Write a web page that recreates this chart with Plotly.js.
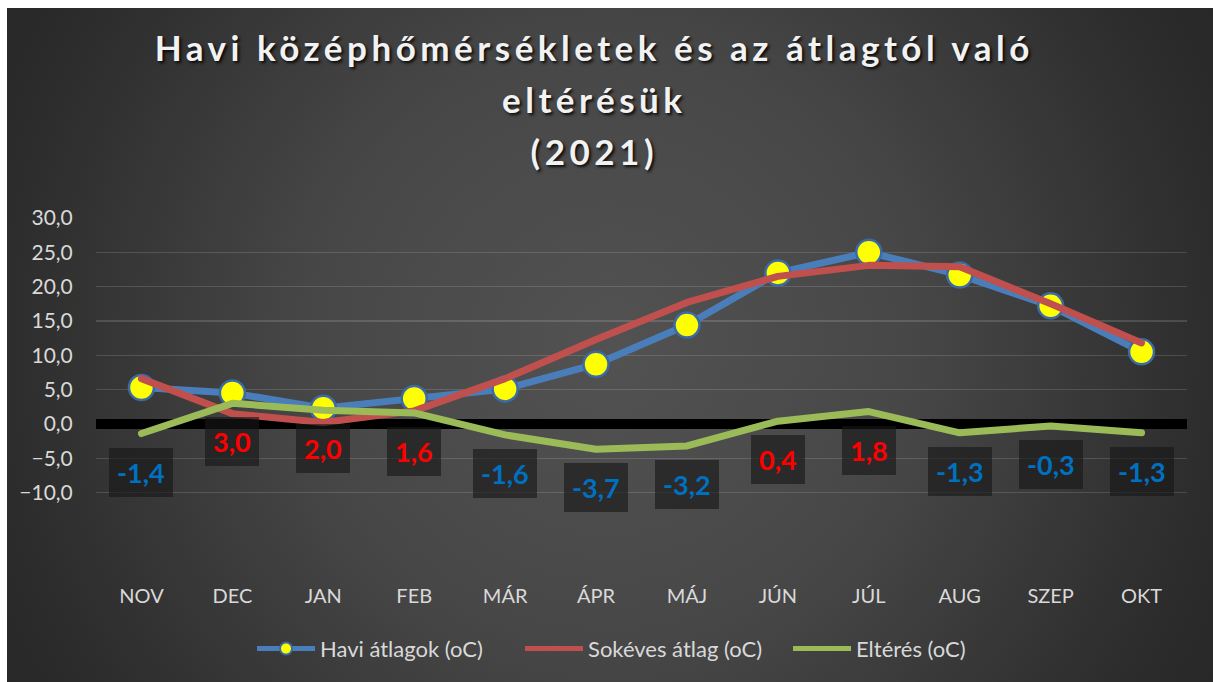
<!DOCTYPE html>
<html>
<head>
<meta charset="utf-8">
<script src="https://cdn.plot.ly/plotly-3.0.1.min.js"></script>
<style>
  html, body { margin: 0; padding: 0; background: #ffffff; }
  #chart {
    position: absolute; left: 7px; top: 8px; width: 1206px; height: 674px;
    background: radial-gradient(circle at 50% 50%, #525252 0px, #474747 300px, #2d2d2d 600px, #262626 720px);
  }
  .gtitle { letter-spacing: 4.5px; }
  .scatterlayer path.js-line { stroke-linecap: round; stroke-linejoin: round; }
</style>
</head>
<body>
<div id="chart"></div>
<script>
const months = ['NOV','DEC','JAN','FEB','MÁR','ÁPR','MÁJ','JÚN','JÚL','AUG','SZEP','OKT'];
const haviAtlagok = [5.3, 4.5, 2.3, 3.7, 5.1, 8.7, 14.4, 22.0, 25.0, 21.7, 17.2, 10.5];
const sokevesAtlag = [6.6, 1.5, 0.2, 1.9, 6.6, 12.3, 17.7, 21.5, 23.1, 22.9, 17.5, 11.8];
const elteres = [-1.4, 3.0, 2.0, 1.6, -1.6, -3.7, -3.2, 0.4, 1.8, -1.3, -0.3, -1.3];
const yTicks = [-10, -5, 0, 5, 10, 15, 20, 25, 30];
const seriesNames = ['Havi átlagok (oC)', 'Sokéves átlag (oC)', 'Eltérés (oC)'];

const labelFont = 'Lato, "Open Sans", sans-serif';

const traces = [
  {
    x: months, y: haviAtlagok, name: seriesNames[0], type: 'scatter', mode: 'lines+markers',
    line: {color: '#4a7ebb', width: 7},
    marker: {color: '#ffff00', size: 25, line: {color: '#3a6aa8', width: 2.5}},
    hoverinfo: 'skip'
  },
  {
    x: months, y: sokevesAtlag, name: seriesNames[1], type: 'scatter', mode: 'lines',
    line: {color: '#c0504d', width: 7},
    hoverinfo: 'skip'
  },
  {
    x: months, y: elteres, name: seriesNames[2], type: 'scatter', mode: 'lines',
    line: {color: '#9bbb59', width: 7},
    hoverinfo: 'skip'
  }
];

const annotations = months.map((m, i) => ({
  x: m, y: elteres[i], xref: 'x', yref: 'y',
  text: elteres[i].toFixed(1).replace('.', ','),
  showarrow: false, yshift: -38.5,
  bgcolor: 'rgba(22,22,22,0.62)', borderpad: 8, borderwidth: 0,
  font: {family: labelFont, size: 27, weight: 'bold', color: elteres[i] < 0 ? '#0070c0' : '#ff0000'}
}));

const layout = {
  width: 1206, height: 674,
  paper_bgcolor: 'rgba(0,0,0,0)', plot_bgcolor: 'rgba(0,0,0,0)',
  margin: {l: 88.5, r: 25.5, t: 210, b: 105},
  separators: ',.',
  showlegend: true,
  title: {
    text: '<span style="font-size:35px">Havi középhőmérsékletek és az átlagtól való</span><br><span style="font-size:35px">eltérésük</span><br><span style="font-size:35px">(2021)</span>',
    font: {family: labelFont, size: 40, weight: 'bold', color: '#f2f2f2', shadow: '2px 2px 3px rgba(0,0,0,0.85)'},
    x: 0.487, xref: 'container', xanchor: 'center',
    y: 0.921, yref: 'container', yanchor: 'top'
  },
  xaxis: {
    type: 'category', range: [-0.5, 11.5],
    showgrid: false, showline: false, zeroline: false,
    ticks: '', ticklabelstandoff: 5,
    tickfont: {family: labelFont, size: 20, color: '#d9d9d9'},
    fixedrange: true
  },
  yaxis: {
    range: [-22.3, 30], tickvals: yTicks, tickformat: '.1f',
    showgrid: true, gridcolor: 'rgba(255,255,255,0.14)', gridwidth: 1.5,
    zeroline: true, zerolinecolor: '#000000', zerolinewidth: 10,
    showline: false,
    ticks: 'outside', ticklen: 18, tickcolor: 'rgba(0,0,0,0)',
    tickfont: {family: labelFont, size: 21, color: '#d9d9d9'},
    fixedrange: true
  },
  legend: {
    orientation: 'h', x: 0.143, xanchor: 'left', y: -0.2, yanchor: 'middle',
    font: {family: labelFont, size: 22, color: '#d9d9d9'},
    bgcolor: 'rgba(0,0,0,0)', itemsizing: 'constant', itemwidth: 58,
    entrywidth: 195, entrywidthmode: 'pixels'
  },
  annotations: annotations,
  hovermode: false
};

Plotly.newPlot('chart', traces, layout, {displayModeBar: false, staticPlot: true});
</script>
</body>
</html>
